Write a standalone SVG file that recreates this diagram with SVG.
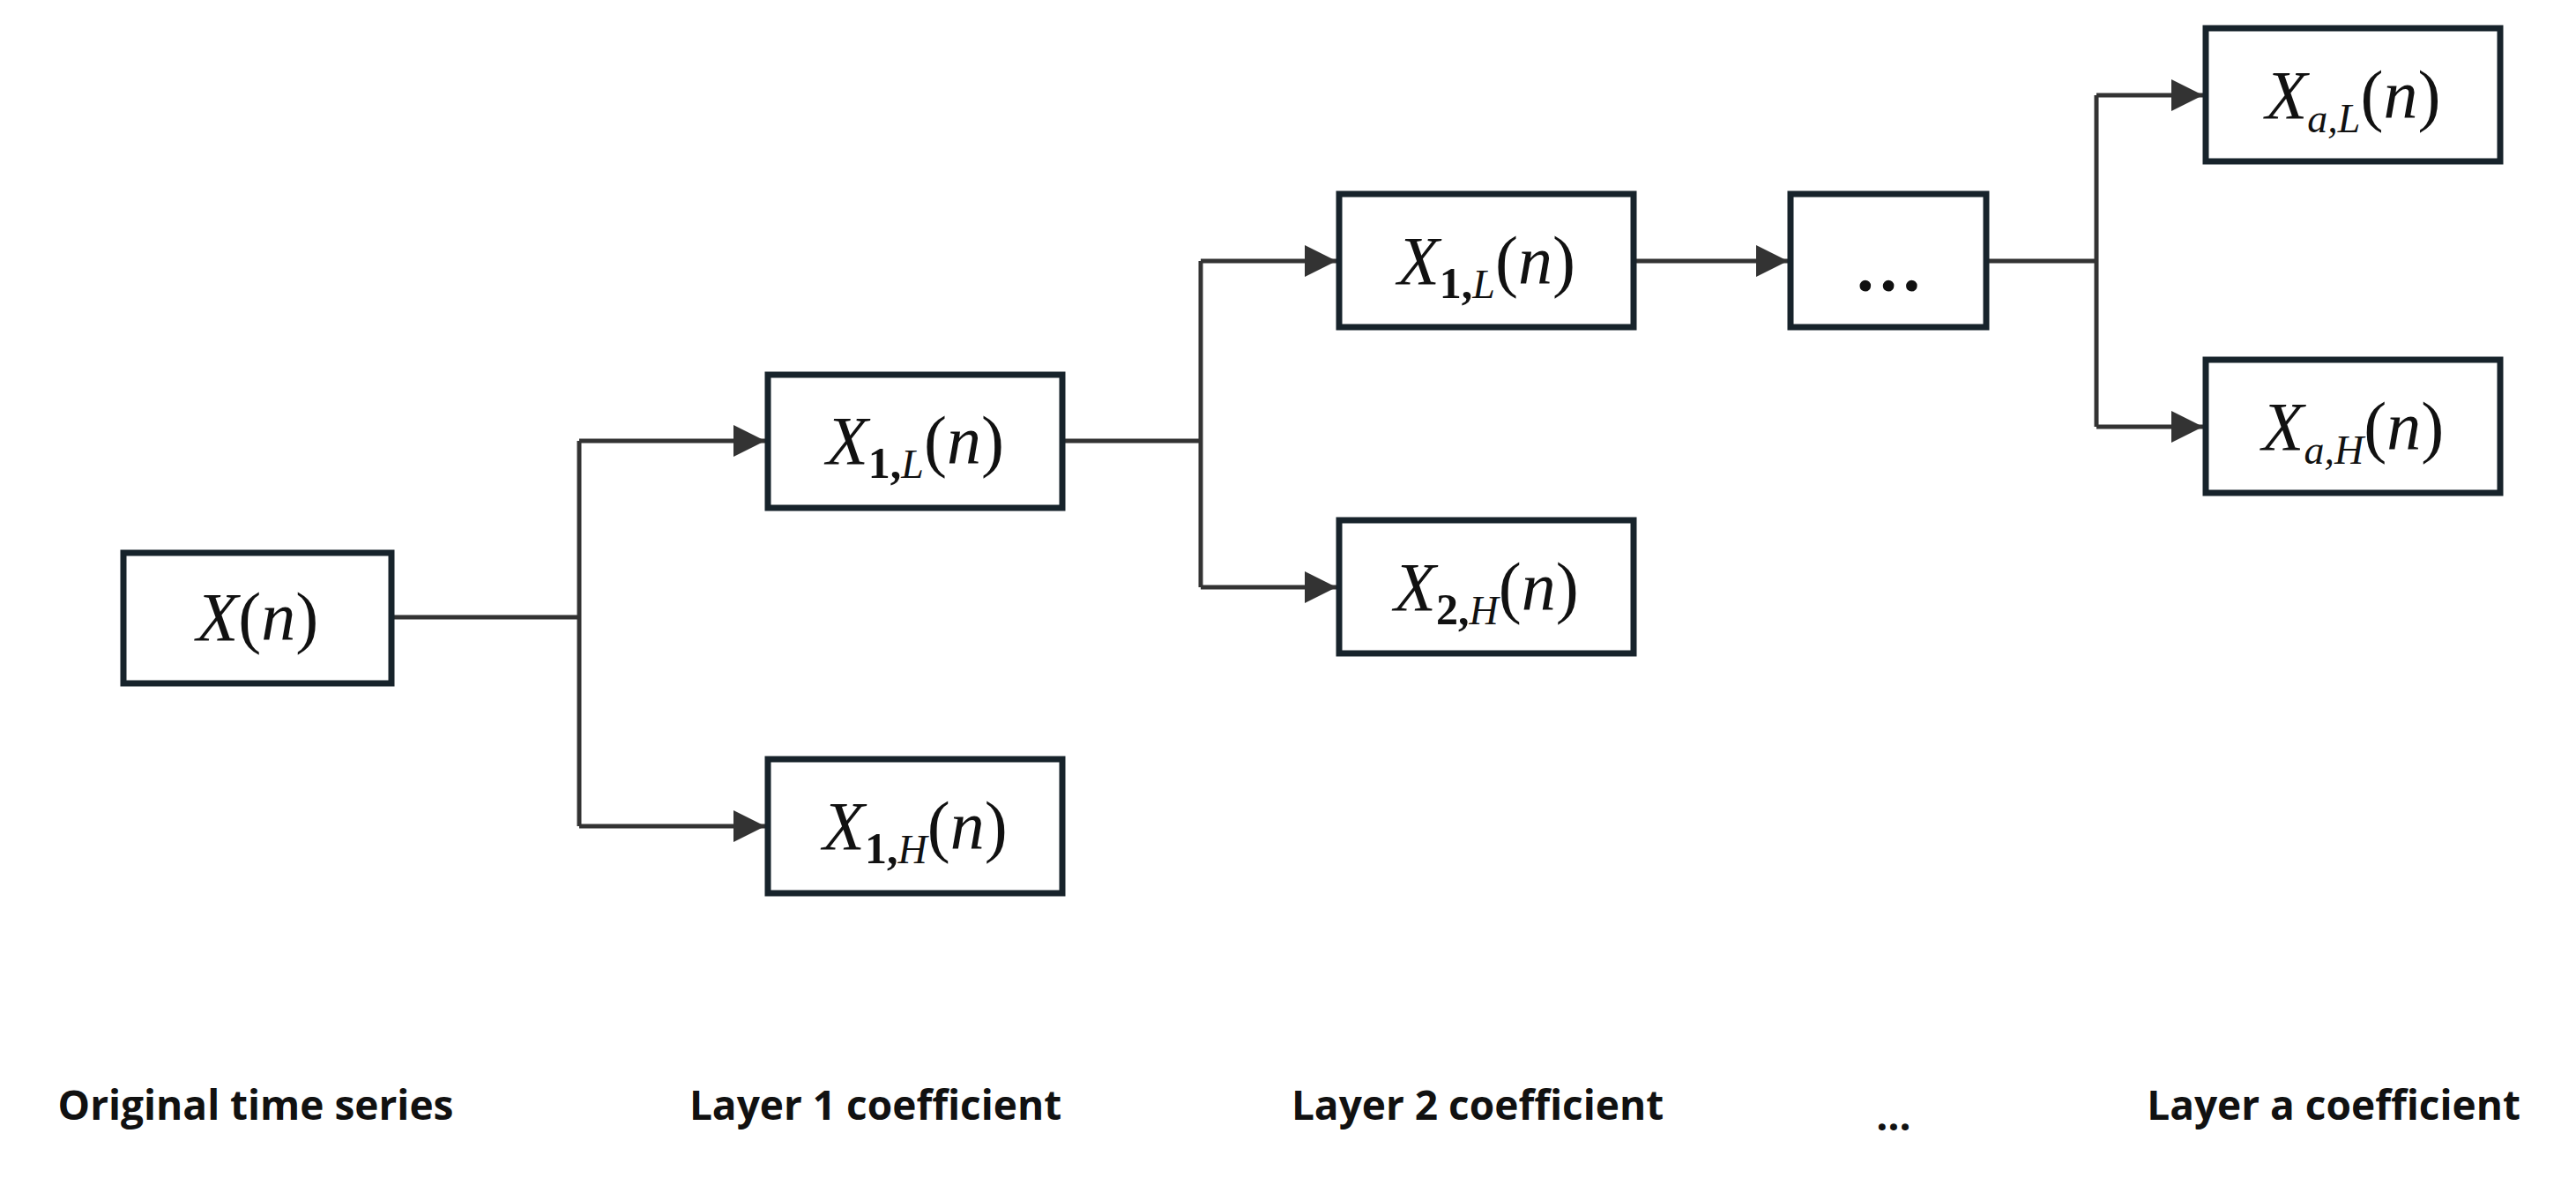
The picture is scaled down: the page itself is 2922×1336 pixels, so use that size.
<svg xmlns="http://www.w3.org/2000/svg" width="2922" height="1336" viewBox="0 0 2922 1336">
<style>
.box{fill:#fff;stroke:#17232b;stroke-width:7}
.m{font-family:"Liberation Serif",serif;font-size:78px;fill:#111}
.i{font-style:italic}
.sb{font-size:50px;font-weight:bold;font-style:normal}
.si{font-size:46px;font-style:italic}
.c{fill:none;stroke:#333;stroke-width:5}
.lbl{font-family:"Open Sans","Liberation Sans",sans-serif;font-weight:bold;font-size:46px;fill:#111;text-anchor:middle}
</style>
<defs><marker id="a" markerWidth="10" markerHeight="10" refX="9" refY="5" orient="auto" markerUnits="userSpaceOnUse" viewBox="0 0 10 10"><path d="M0,0L10,5L0,10z" fill="#333"/></marker>
<marker id="ah" viewBox="0 0 10 10" refX="10" refY="5" markerWidth="40" markerHeight="36" markerUnits="userSpaceOnUse" orient="auto"><path d="M0,0L10,5L0,10z" fill="#333"/></marker></defs>
<g id="connectors">
<path class="c" d="M444,700H657M657,500V937"/>
<path class="c" d="M657,500H868" marker-end="url(#ah)"/>
<path class="c" d="M657,937H868" marker-end="url(#ah)"/>
<path class="c" d="M1205,500H1362M1362,296V666"/>
<path class="c" d="M1362,296H1516" marker-end="url(#ah)"/>
<path class="c" d="M1362,666H1516" marker-end="url(#ah)"/>
<path class="c" d="M1853,296H2028" marker-end="url(#ah)"/>
<path class="c" d="M2253,296H2378M2378,108V484"/>
<path class="c" d="M2378,108H2499" marker-end="url(#ah)"/>
<path class="c" d="M2378,484H2499" marker-end="url(#ah)"/>
</g>
<g id="n0"><rect class="box" x="140" y="627" width="304" height="148"/><text class="m" x="292" y="726" text-anchor="middle"><tspan class="i">X</tspan>(<tspan class="i">n</tspan>)</text></g>
<g id="n1"><rect class="box" x="871" y="425" width="334" height="151"/><text class="m" x="1038" y="526" text-anchor="middle"><tspan class="i">X</tspan><tspan class="sb" dy="16">1,</tspan><tspan class="si">L</tspan><tspan dy="-16">(</tspan><tspan class="i">n</tspan>)</text></g>
<g id="n2"><rect class="box" x="871" y="861" width="334" height="152"/><text class="m" x="1038" y="963" text-anchor="middle"><tspan class="i">X</tspan><tspan class="sb" dy="16">1,</tspan><tspan class="si">H</tspan><tspan dy="-16">(</tspan><tspan class="i">n</tspan>)</text></g>
<g id="n3"><rect class="box" x="1519" y="220" width="334" height="151"/><text class="m" x="1686" y="322" text-anchor="middle"><tspan class="i">X</tspan><tspan class="sb" dy="16">1,</tspan><tspan class="si">L</tspan><tspan dy="-16">(</tspan><tspan class="i">n</tspan>)</text></g>
<g id="n4"><rect class="box" x="1519" y="590" width="334" height="151"/><text class="m" x="1686" y="692" text-anchor="middle"><tspan class="i">X</tspan><tspan class="sb" dy="16">2,</tspan><tspan class="si">H</tspan><tspan dy="-16">(</tspan><tspan class="i">n</tspan>)</text></g>
<g id="n5"><rect class="box" x="2031" y="220" width="222" height="151"/><text class="m" x="2142" y="330" text-anchor="middle" font-weight="bold">…</text></g>
<g id="n6"><rect class="box" x="2502" y="32" width="334" height="151"/><text class="m" x="2669" y="134" text-anchor="middle"><tspan class="i">X</tspan><tspan class="si" dy="16">a,L</tspan><tspan dy="-16">(</tspan><tspan class="i">n</tspan>)</text></g>
<g id="n7"><rect class="box" x="2502" y="408" width="334" height="151"/><text class="m" x="2669" y="510" text-anchor="middle"><tspan class="i">X</tspan><tspan class="si" dy="16">a,H</tspan><tspan dy="-16">(</tspan><tspan class="i">n</tspan>)</text></g>
<g id="labels">
<text class="lbl" x="290" y="1270">Original time series</text>
<text class="lbl" x="993" y="1270">Layer 1 coefficient</text>
<text class="lbl" x="1676" y="1270">Layer 2 coefficient</text>
<text class="lbl" x="2148" y="1282">…</text>
<text class="lbl" x="2647" y="1270">Layer a coefficient</text>
</g>
</svg>
